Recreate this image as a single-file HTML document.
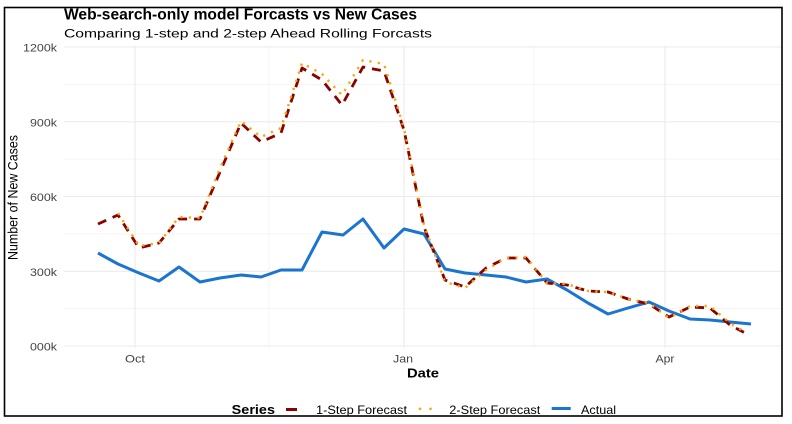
<!DOCTYPE html>
<html><head><meta charset="utf-8"><style>
html,body{margin:0;padding:0;background:#fff;}
svg{display:block;}
text{font-family:"Liberation Sans",Arial,sans-serif;}
</style></head><body>
<svg width="792" height="424" viewBox="0 0 792 424" xmlns="http://www.w3.org/2000/svg">
<rect x="0" y="0" width="792" height="424" fill="#fff"/>
<!-- minor grid -->
<g stroke="#f2f2f2" stroke-width="0.8">
<line x1="64" y1="84.4" x2="781" y2="84.4"/>
<line x1="64" y1="159.1" x2="781" y2="159.1"/>
<line x1="64" y1="233.9" x2="781" y2="233.9"/>
<line x1="64" y1="308.6" x2="781" y2="308.6"/>
<line x1="269" y1="46" x2="269" y2="348"/>
<line x1="534" y1="46" x2="534" y2="348"/>
</g>
<!-- major grid -->
<g stroke="#ebebeb" stroke-width="1.1">
<line x1="64" y1="47" x2="781" y2="47"/>
<line x1="64" y1="121.8" x2="781" y2="121.8"/>
<line x1="64" y1="196.5" x2="781" y2="196.5"/>
<line x1="64" y1="271.3" x2="781" y2="271.3"/>
<line x1="64" y1="346" x2="781" y2="346"/>
<line x1="135" y1="46" x2="135" y2="348"/>
<line x1="404" y1="46" x2="404" y2="348"/>
<line x1="665" y1="46" x2="665" y2="348"/>
</g>
<!-- Actual -->
<polyline fill="none" stroke="#1a74d0" stroke-width="3" stroke-linejoin="round" stroke-linecap="butt"
points="98,253 118,264 139,273 159,281 179,267 200,282 220,278 241,275 261,277 281,270 302,270 322,232 343,235 363,219 384,248 404,229 424,234 445,269 465,273 486,275 506,277 526,282 547,279 567,290 588,303 608,314 628,308 649,302 669,311 690,319 710,320 730,322 751,324"/>
<!-- 1-step -->
<polyline fill="none" stroke="#8b0000" stroke-width="2.8" stroke-dasharray="9 7" stroke-linejoin="round"
points="98,224 118,215 139,248 159,243 179,219 200,219 220,172 241,123 261,142 281,133 302,68 322,80 342,105 363,67 384,71 404,130 424,227 445,280 465,287 486,268 506,258 526,258 547,283 567,285 588,291 608,292 628,299 649,304 669,317 690,307 710,308 730,325 745,333"/>
<!-- 2-step -->
<polyline fill="none" stroke="#ffa500" stroke-width="2.4" stroke-dasharray="2.2 6.3" stroke-linejoin="round"
points="118,213 139,246 159,243 179,217 200,218 220,168 241,121 261,137 281,128 302,63 322,74 342,95 363,60 384,64 404,128 424,225 445,282 465,288 486,270 506,258 526,257 547,283 567,284 588,291 608,292 628,299 649,303 669,318 690,306 710,306 730,323 745,332"/>
<!-- Title -->
<text x="64" y="19.5" font-size="15.5" font-weight="bold" fill="#000" textLength="353" lengthAdjust="spacingAndGlyphs">Web-search-only model Forcasts vs New Cases</text>
<text x="64" y="37.7" font-size="12.4" fill="#000" textLength="368" lengthAdjust="spacingAndGlyphs">Comparing 1-step and 2-step Ahead Rolling Forcasts</text>
<!-- Y tick labels -->
<g font-size="10.8" fill="#444" text-anchor="end">
<text x="57" y="51.5" textLength="34" lengthAdjust="spacingAndGlyphs">1200k</text>
<text x="57" y="126.3" textLength="27" lengthAdjust="spacingAndGlyphs">900k</text>
<text x="57" y="201" textLength="27" lengthAdjust="spacingAndGlyphs">600k</text>
<text x="57" y="275.8" textLength="27" lengthAdjust="spacingAndGlyphs">300k</text>
<text x="57" y="350.5" textLength="27" lengthAdjust="spacingAndGlyphs">000k</text>
</g>
<!-- X tick labels -->
<g font-size="10.8" fill="#444" text-anchor="middle">
<text x="135" y="362.7" textLength="20" lengthAdjust="spacingAndGlyphs">Oct</text>
<text x="403" y="362.7" textLength="20" lengthAdjust="spacingAndGlyphs">Jan</text>
<text x="665" y="362.7" textLength="19" lengthAdjust="spacingAndGlyphs">Apr</text>
</g>
<!-- Axis titles -->
<text x="423" y="377.7" font-size="13" font-weight="bold" fill="#000" text-anchor="middle" textLength="32" lengthAdjust="spacingAndGlyphs">Date</text>
<text transform="translate(17.5,197.5) rotate(-90)" x="0" y="0" font-size="14" fill="#000" text-anchor="middle" textLength="125" lengthAdjust="spacingAndGlyphs">Number of New Cases</text>
<!-- Legend -->
<text x="231.7" y="414" font-size="13" font-weight="bold" fill="#000" textLength="43.3" lengthAdjust="spacingAndGlyphs">Series</text>
<line x1="286" y1="409.5" x2="297" y2="409.5" stroke="#8b0000" stroke-width="3"/>
<text x="316" y="414" font-size="12" fill="#000" textLength="91" lengthAdjust="spacingAndGlyphs">1-Step Forecast</text>
<circle cx="420" cy="408.8" r="1.3" fill="#ffa500"/>
<circle cx="430.5" cy="408.8" r="1.3" fill="#ffa500"/>
<text x="449.3" y="414" font-size="12" fill="#000" textLength="91" lengthAdjust="spacingAndGlyphs">2-Step Forecast</text>
<line x1="551.7" y1="408.5" x2="570.7" y2="408.5" stroke="#1a74d0" stroke-width="3"/>
<text x="581" y="414" font-size="12" fill="#000" textLength="35" lengthAdjust="spacingAndGlyphs">Actual</text>
<!-- Border -->
<rect x="4.5" y="7.5" width="777.5" height="408.5" fill="none" stroke="#000" stroke-width="1.6"/>
</svg>
</body></html>
